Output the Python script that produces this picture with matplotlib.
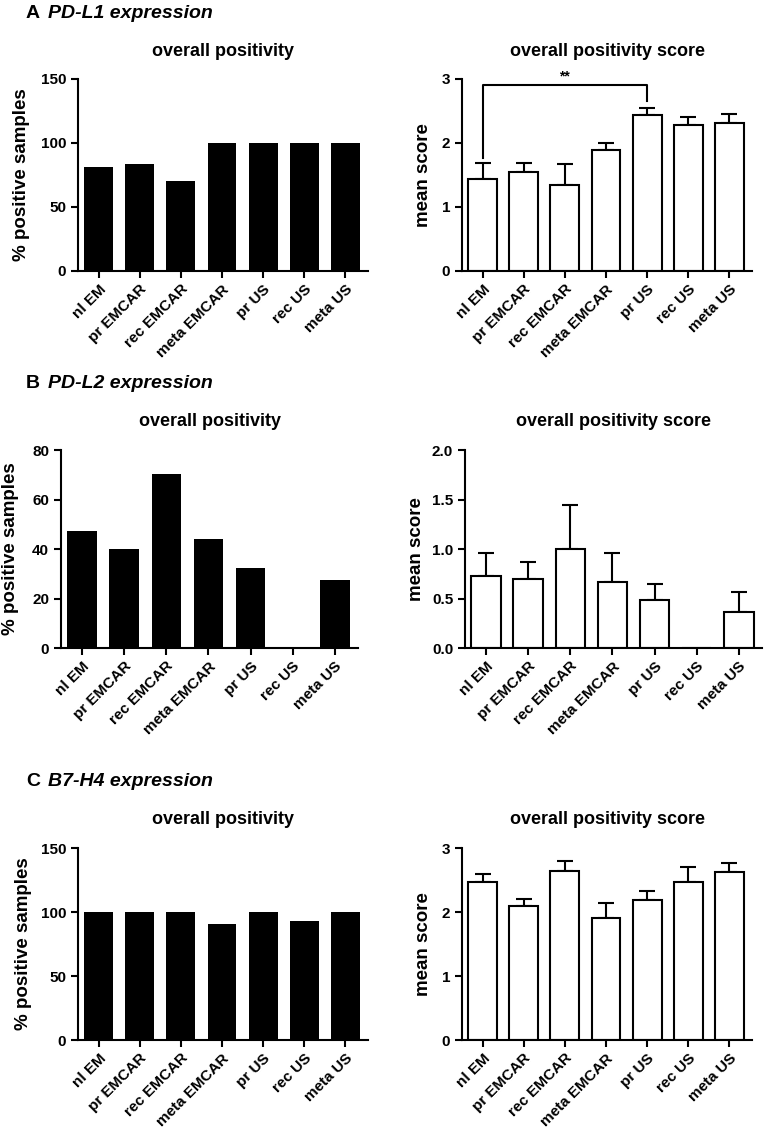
import matplotlib
matplotlib.use("Agg")
import matplotlib.pyplot as plt
import numpy as np

plt.rcParams['font.family'] = ['Liberation Sans', 'DejaVu Sans']
plt.rcParams['font.weight'] = 'bold'
plt.rcParams['axes.labelweight'] = 'bold'

groups = ["nl EM", "pr EMCAR", "rec EMCAR", "meta EMCAR", "pr US", "rec US", "meta US"]

# A: PD-L1
pdl1_pos = [81.6, 83.4, 70.5, 100, 100, 100, 100]
pdl1_score = [1.44, 1.55, 1.34, 1.89, 2.44, 2.28, 2.31]
pdl1_err = [0.25, 0.14, 0.33, 0.11, 0.10, 0.13, 0.15]

# B: PD-L2
pdl2_pos = [47.2, 40.1, 70.3, 44.2, 32.2, 0, 27.3]
pdl2_score = [0.73, 0.70, 1.00, 0.67, 0.48, 0, 0.36]
pdl2_err = [0.23, 0.165, 0.44, 0.285, 0.17, 0, 0.21]

# C: B7-H4
b7h4_pos = [100, 100, 100, 90.9, 100, 92.7, 100]
b7h4_score = [2.47, 2.10, 2.64, 1.90, 2.19, 2.47, 2.62]
b7h4_err = [0.13, 0.10, 0.16, 0.235, 0.14, 0.23, 0.14]

W, H = 765, 1127
fig = plt.figure(figsize=(W / 100, H / 100), dpi=100)


def make_ax(x0, x1, y0, y1):
    # pixel box -> figure fraction
    return fig.add_axes([x0 / W, 1 - y1 / H, (x1 - x0) / W, (y1 - y0) / H])


def style(ax, ylim, yticks, ylabel, label_x, title, title_y, fmt=None):
    x = np.arange(len(groups))
    ax.set_xlim(-0.5, 6.55)
    ax.set_ylim(*ylim)
    ax.set_yticks(yticks)
    if fmt:
        ax.set_yticklabels([fmt.format(v) for v in yticks])
    ax.set_xticks(x)
    ax.set_xticklabels(groups, rotation=45, ha='right', rotation_mode='anchor', fontsize=10.2)
    for s in ['top', 'right']:
        ax.spines[s].set_visible(False)
    for s in ['left', 'bottom']:
        ax.spines[s].set_linewidth(1.5)
    ax.tick_params(width=1.5, length=5, labelsize=11)
    ax.tick_params(axis='x', pad=3)
    pos = ax.get_position()
    fig.text(label_x / W, (pos.y0 + pos.y1) / 2, ylabel, rotation=90, ha='center', va='center',
             fontsize=13.5, fontweight='bold')
    fig.text((pos.x0 + pos.x1) / 2, 1 - title_y / H, title, ha='center', va='center',
             fontsize=13, fontweight='bold')


def pos_panel(ax, vals, ylim, yticks, label_x, title_y):
    ax.bar(np.arange(len(groups)), vals, width=0.7, color='black')
    style(ax, ylim, yticks, '% positive samples', label_x, 'overall positivity', title_y)


def score_panel(ax, vals, errs, ylim, yticks, label_x, title_y, fmt=None):
    x = np.arange(len(groups))
    ax.bar(x, vals, width=0.7, color='white', edgecolor='black', linewidth=1.5, zorder=2)
    shown = [i for i in range(len(vals)) if vals[i] > 0]
    ax.errorbar(x[shown], np.array(vals)[shown],
                yerr=[np.zeros(len(shown)), np.array(errs)[shown]],
                fmt='none', ecolor='black', elinewidth=1.5, capsize=6, capthick=1.5, zorder=1)
    style(ax, ylim, yticks, 'mean score', label_x, 'overall positivity score', title_y, fmt)


def header(y, letter, name):
    fig.text(26 / W, 1 - y / H, letter, fontsize=14, fontweight='bold', va='center')
    fig.text(48 / W, 1 - y / H, name, fontsize=14, fontweight='bold', style='italic', va='center')


# Panel A
header(13, "A", "PD-L1 expression")
ax = make_ax(78, 368, 79, 271)
pos_panel(ax, pdl1_pos, (0, 150), [0, 50, 100, 150], 22, 52)
ax = make_ax(462, 752, 79, 271)
score_panel(ax, pdl1_score, pdl1_err, (0, 3), [0, 1, 2, 3], 424, 52)
ax.plot([0, 0, 4, 4], [1.76, 2.90, 2.90, 2.65], color='black', lw=1.5, clip_on=False)
ax.text(2, 2.93, '**', ha='center', va='bottom', fontsize=10)

# Panel B
header(383, "B", "PD-L2 expression")
ax = make_ax(61, 358, 450, 648)
pos_panel(ax, pdl2_pos, (0, 80), [0, 20, 40, 60, 80], 11, 422)
ax = make_ax(465, 762, 450, 648)
score_panel(ax, pdl2_score, pdl2_err, (0, 2), [0, 0.5, 1.0, 1.5, 2.0], 417, 422, fmt='{:.1f}')

# Panel C
header(782, "C", "B7-H4 expression")
ax = make_ax(78, 368, 848, 1040)
pos_panel(ax, b7h4_pos, (0, 150), [0, 50, 100, 150], 24, 820)
ax = make_ax(462, 752, 848, 1040)
score_panel(ax, b7h4_score, b7h4_err, (0, 3), [0, 1, 2, 3], 424, 820)

fig.savefig("out.png", dpi=100)
